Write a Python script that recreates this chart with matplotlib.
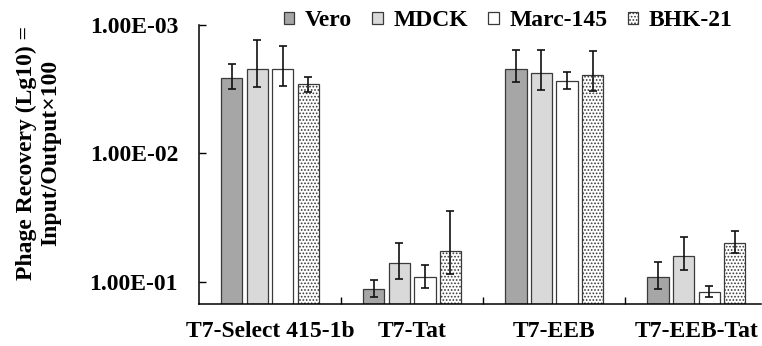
import numpy as np
import matplotlib
matplotlib.use("Agg")
import matplotlib.pyplot as plt

# values (inverted log axis)
groups = ["T7-Select 415-1b", "T7-Tat", "T7-EEB", "T7-EEB-Tat"]
cells = ["Vero", "MDCK", "Marc-145", "BHK-21"]

vero = [2.59e-3, 0.114, 2.20e-3, 0.0920]
mdck = [2.20e-3, 0.0716, 2.37e-3, 0.0631]
marc = [2.20e-3, 0.0920, 2.73e-3, 0.1205]
bhk = [2.88e-3, 0.0578, 2.45e-3, 0.0500]

# error bar ends (lower value = higher on the plot)
vero_lo = [2.01e-3, 0.0972, 1.57e-3, 0.0703]
vero_hi = [3.17e-3, 0.132, 2.78e-3, 0.114]
mdck_lo = [1.31e-3, 0.0500, 1.57e-3, 0.0449]
mdck_hi = [3.04e-3, 0.0955, 3.21e-3, 0.0812]
marc_lo = [1.46e-3, 0.0743, 2.32e-3, 0.108]
marc_hi = [2.99e-3, 0.112, 3.17e-3, 0.132]
bhk_lo = [2.54e-3, 0.0282, 1.60e-3, 0.0403]
bhk_hi = [3.33e-3, 0.0873, 3.27e-3, 0.0599]

yticks = [1e-3, 1e-2, 1e-1]
ytick_labels = ["1.00E-03", "1.00E-02", "1.00E-01"]

plt.rcParams['font.family'] = ['Liberation Serif', 'DejaVu Serif']
plt.rcParams['font.weight'] = 'bold'
plt.rcParams['axes.labelweight'] = 'bold'
plt.rcParams['hatch.linewidth'] = 0.8
plt.rcParams['hatch.color'] = '#8a8a8a'

fig = plt.figure(figsize=(7.62, 3.46), dpi=100)
ax = fig.add_axes([0.261, 0.121, 0.738, 0.807])

base = 0.15
x = np.arange(1, len(groups) + 1)
step, width = 0.18, 0.15
series = [
    (vero, vero_lo, vero_hi, '#a6a6a6', None),
    (mdck, mdck_lo, mdck_hi, '#d9d9d9', None),
    (marc, marc_lo, marc_hi, 'white', None),
    (bhk, bhk_lo, bhk_hi, 'white', '.....'),
]
for i, (v, lo, hi, fc, hatch) in enumerate(series):
    v = np.array(v)
    xi = x + (i - 1.5) * step
    ax.bar(xi, v - base, bottom=base, width=width, color=fc, edgecolor='#3a3a3a',
           linewidth=0.9, hatch=hatch, label=cells[i], zorder=2)
    ax.errorbar(xi, v, yerr=[v - np.array(lo), np.array(hi) - v], fmt='none',
                ecolor='#111111', elinewidth=1.2, capsize=3.2, capthick=1.2, zorder=3)

ax.set_yscale('log')
ax.set_ylim(base, 1e-3)
ax.set_yticks(yticks)
ax.set_yticklabels(ytick_labels)
ax.yaxis.set_minor_locator(matplotlib.ticker.NullLocator())
ax.tick_params(axis='y', direction='in', length=5, width=1, pad=15, labelsize=17)

ax.set_xlim(0.5, 4.456)
ax.set_xticks([1.5, 2.5, 3.5])
ax.set_xticklabels([])
ax.set_xticks(x, minor=True)
ax.set_xticklabels(groups, minor=True)
ax.tick_params(axis='x', which='major', direction='in', length=5, width=1)
ax.tick_params(axis='x', which='minor', length=0, pad=12, labelsize=17)

for s in ['top', 'right']:
    ax.spines[s].set_visible(False)
for s in ['left', 'bottom']:
    ax.spines[s].set_linewidth(1.1)

ax.set_ylabel("Phage Recovery (Lg10) =\nInput/Output×100", fontsize=17,
              fontweight='bold', linespacing=1.2)
ax.yaxis.set_label_coords(-0.245, 0.541)

leg = fig.legend(loc='center', bbox_to_anchor=(0.667, 0.94), ncol=4, frameon=False,
                 fontsize=17, handlelength=0.45, handleheight=0.45, handletextpad=0.45,
                 columnspacing=0.85, borderaxespad=0)

fig.savefig('out.png', dpi=100)
